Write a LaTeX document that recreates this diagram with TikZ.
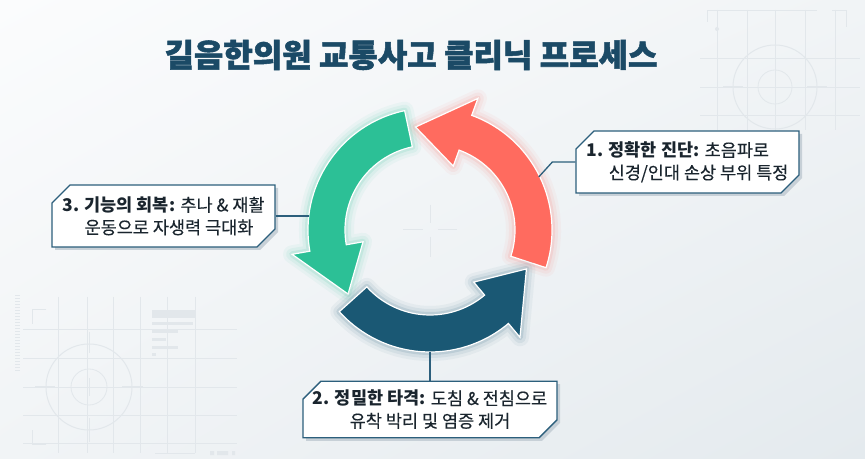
\documentclass[tikz,border=0pt]{standalone}
\usepackage{fontspec}
\setmainfont{Noto Sans CJK KR}[UprightFeatures={FakeBold=0.25}]
\newfontfamily\titlefont{Noto Sans CJK KR}[BoldFeatures={FakeBold=1.6}]
\usetikzlibrary{shapes.misc,shadows,calc,shadings}
\definecolor{titleblue}{HTML}{1B4A66}
\definecolor{redA}{HTML}{FF6B5F}
\definecolor{greenA}{HTML}{2CC096}
\definecolor{blueA}{HTML}{1A5874}
\definecolor{lineblue}{HTML}{2C5F7C}
\definecolor{deco}{HTML}{E2E7EB}
\definecolor{bgA}{HTML}{FBFCFD}
\definecolor{bgB}{HTML}{E4EAEE}
\definecolor{bgC}{HTML}{F1F4F6}
\definecolor{shadowgrey}{HTML}{C7D0D7}
\definecolor{txt}{HTML}{1A252E}
\tikzset{
  infobox/.style={chamfered rectangle, chamfered rectangle corners={north west,south east},
    chamfered rectangle xsep=9pt, chamfered rectangle ysep=9pt,
    draw=lineblue, line width=1.3pt, fill=white, text=txt,
    font=\fontsize{17.5}{22.5}\selectfont, inner sep=0pt,
    copy shadow={shadow xshift=3pt, shadow yshift=-3pt, fill=shadowgrey, draw=none}},
  conn/.style={draw=lineblue, line width=1.3pt},
  decoline/.style={draw=deco, line width=0.8pt},
  titletext/.style={text=titleblue, font=\titlefont\fontsize{32}{36}\selectfont\bfseries},
}
\newcommand{\RingArrow}[4]{\path[#4] (#1:122) arc[start angle=#1,end angle=#2,radius=122] -- (#2:140) -- (#3:104) -- (#2:68) -- (#2:85) arc[start angle=#2,end angle=#1,radius=85] -- cycle;}
\newcommand{\GlowArrow}[4]{%
  \RingArrow{#1}{#2}{#3}{draw=#4, line width=18pt, draw opacity=0.05, line join=round}
  \RingArrow{#1}{#2}{#3}{draw=#4, line width=12pt, draw opacity=0.07, line join=round}
  \RingArrow{#1}{#2}{#3}{draw=#4, line width=6pt, draw opacity=0.12, line join=round}
  \RingArrow{#1}{#2}{#3}{fill=#4, draw=white, line width=1.2pt}}
\begin{document}
\begin{tikzpicture}[x=1pt,y=1pt]
\useasboundingbox (0,0) rectangle (865,458);
\shade[upper left=bgA, upper right=bgC, lower left=bgC, lower right=bgB] (0,0) rectangle (865,458);
% decorations top right
\begin{scope}[decoline]
  \foreach \x in {717,747,775,805,835} \draw (\x,448) -- (\x,328);
  \foreach \y in {400,371,343} \draw (700,\y) -- (860,\y);
  \draw (707,436) -- (707,448) -- (817,448);
  \draw (832,448) -- (846,448) -- (846,431);
  \fill[deco] (717,429) circle (2);
  \draw[line width=1pt] (775,371) circle (42);
  \draw (775,371) circle (17);
  \draw[line width=1pt] (775,423) -- (775,405) (775,337) -- (775,319) (723,371) -- (743,371) (807,371) -- (827,371);
  \draw (767,371) -- (783,371) (775,363) -- (775,379);
\end{scope}
% decorations bottom left
\begin{scope}[decoline]
  \foreach \x in {58,87,113,140,167,195} \draw (\x,161) -- (\x,5);
  \foreach \y in {129,100,71,43,15} \draw (23,\y) -- (237,\y);
  \draw (46,149) -- (32,149) -- (32,134);
  \draw (46,14) -- (32,14) -- (32,28);
  \draw[line width=1pt] (89,71) circle (43);
  \draw (89,71) circle (18);
  \draw[line width=1pt] (35,71) -- (55,71) (122,71) -- (143,71) (89,126) -- (89,105) (89,40) -- (89,16);
  \draw (80,71) -- (98,71) (89,62) -- (89,80);
  \fill[deco] (152,140) rectangle (195,148);
  \fill[deco] (152,133) rectangle (193,136);
  \fill[deco] (152,125) rectangle (178,128);
  \fill[deco] (152,117) rectangle (166,120);
  \fill[deco] (152,109) rectangle (178,112);
  \fill[deco] (152,102) rectangle (156,105);
  \foreach \y in {163,160,...,87} \draw[line width=0.6pt] (15,\y) -- (20,\y);
  \draw (155,5) -- (195,5);
  \fill[deco] (210,3) rectangle (214,7) (217,3) rectangle (228,7) (232,3) rectangle (235,7);
\end{scope}
% title
\node[titletext] (title) at (411,403) {길음한의원 교통사고 클리닉 프로세스};
% cycle
\begin{scope}[shift={(430,228)}]
  \coordinate (C) at (0,0);
  \draw[deco,line width=1pt] (-27,0) -- (-7,0) (8,0) -- (27,0) (0,25) -- (0,7) (0,-7) -- (0,-27);
  \GlowArrow{-18}{70}{98}{redA}
  \GlowArrow{102}{190}{218}{greenA}
  \GlowArrow{222}{310}{338}{blueA}
  \coordinate (p1) at (26:121);
  \coordinate (p3) at (-121,0);
  \coordinate (p2) at (270:122);
\end{scope}
% boxes
\node[infobox, minimum width=223pt, minimum height=62pt, align=left] (b1) at (687.5,296)
  {{\bfseries 1. 정확한 진단:} 초음파로\\\phantom{\bfseries 1. }신경/인대 손상 부위 특정};
\node[infobox, minimum width=223pt, minimum height=62pt, align=left] (b3) at (163.5,242)
  {{\bfseries 3. 기능의 회복:} 추나 \& 재활\\\phantom{\bfseries 3. }운동으로 자생력 극대화};
\node[infobox, minimum width=254pt, minimum height=55pt, align=center] (b2) at (430,48.5)
  {{\bfseries 2. 정밀한 타격:} 도침 \& 전침으로\\유착 박리 및 염증 제거};
% connectors
\draw[conn] (b1.west) -- ++(-23,0) -- (p1);
\draw[conn] (b3.east) -- (p3 |- b3.east);
\draw[conn] (b2.north) -- (b2.north |- p2);
\end{tikzpicture}
\end{document}
